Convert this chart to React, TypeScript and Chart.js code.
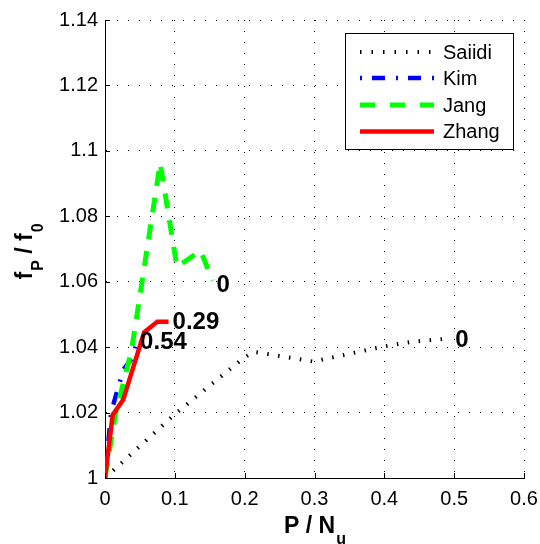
import React, { useEffect, useRef } from 'react';
import { Chart, registerables } from 'chart.js';

Chart.register(...registerables);

// ---- data ----
const seriesNames = ['Saiidi', 'Kim', 'Jang', 'Zhang'];

const saiidiX = [0, 0.1, 0.198, 0.213, 0.298, 0.399, 0.442, 0.496];
const saiidiY = [1.0, 1.0195, 1.0366, 1.0386, 1.0356, 1.0402, 1.0417, 1.0427];

const kimX = [0, 0.009, 0.012, 0.026, 0.04, 0.046];
const kimY = [1.0, 1.0205, 1.0225, 1.033, 1.037, 1.0418];

const jangX = [0, 0.015, 0.038, 0.079, 0.103, 0.137, 0.154];
const jangY = [1.0, 1.0195, 1.039, 1.0963, 1.0645, 1.0695, 1.0603];

const zhangX = [0, 0.011, 0.026, 0.056, 0.075, 0.091];
const zhangY = [1.0, 1.0193, 1.0239, 1.0445, 1.0478, 1.0478];

const endLabels = ['0', '0.54', '0', '0.29'];

const xTicks = [0, 0.1, 0.2, 0.3, 0.4, 0.5, 0.6];
const yTicks = [1.0, 1.02, 1.04, 1.06, 1.08, 1.1, 1.12, 1.14];

// ---- styles ----
const FONT = '"Liberation Sans", Arial, Helvetica, sans-serif';
const colors = ['#000000', '#0000ff', '#00ff00', '#ff0000'];
const dashes: number[][] = [[1.5, 9.5], [13, 11, 2, 11], [15, 12], []];
const legendDashes: number[][] = [[1.5, 10], [2, 10, 13, 11], [15, 15], []];
const widths = [4, 4.5, 5, 4.5];
const labelOffsets = [[4, 2], [3, 1.5], [4, 5], [4, 1]];

const fmt = (v: number) => String(Number(v.toFixed(2)));

const seriesX = [saiidiX, kimX, jangX, zhangX];
const seriesY = [saiidiY, kimY, jangY, zhangY];

const overlay = {
  id: 'overlay',
  afterDatasetsDraw(chart: any) {
    const { ctx, chartArea } = chart;
    const xs = chart.scales.x;
    const ys = chart.scales.y;
    ctx.save();

    // inward tick marks
    ctx.strokeStyle = '#000';
    ctx.lineWidth = 1;
    ctx.setLineDash([]);
    ctx.beginPath();
    xTicks.forEach((v) => {
      const px = Math.round(xs.getPixelForValue(v)) + 0.5;
      ctx.moveTo(px, chartArea.bottom);
      ctx.lineTo(px, chartArea.bottom - 5);
    });
    yTicks.forEach((v) => {
      const py = Math.round(ys.getPixelForValue(v)) + 0.5;
      ctx.moveTo(chartArea.left, py);
      ctx.lineTo(chartArea.left + 5, py);
    });
    ctx.stroke();

    // end-of-series labels
    ctx.fillStyle = '#000';
    ctx.font = 'bold 24px ' + FONT;
    ctx.textAlign = 'left';
    ctx.textBaseline = 'middle';
    seriesX.forEach((sx, i) => {
      const lx = xs.getPixelForValue(sx[sx.length - 1]) + labelOffsets[i][0];
      const ly = ys.getPixelForValue(seriesY[i][sx.length - 1]) + labelOffsets[i][1];
      ctx.fillText(endLabels[i], lx, ly);
    });

    // legend box
    const bx = 345, by = 33, bw = 168, bh = 116;
    ctx.fillStyle = '#fff';
    ctx.fillRect(bx, by, bw, bh);
    ctx.strokeStyle = '#000';
    ctx.lineWidth = 1;
    ctx.strokeRect(bx + 0.5, by + 0.5, bw, bh);
    const rowY = [52, 78, 105, 131.5];
    seriesNames.forEach((name, i) => {
      ctx.save();
      ctx.strokeStyle = colors[i];
      ctx.lineWidth = widths[i];
      ctx.lineCap = 'butt';
      ctx.setLineDash(legendDashes[i]);
      ctx.beginPath();
      ctx.moveTo(360, rowY[i]);
      ctx.lineTo(434, rowY[i]);
      ctx.stroke();
      ctx.restore();
      ctx.fillStyle = '#000';
      ctx.font = '20px ' + FONT;
      ctx.textBaseline = 'middle';
      ctx.textAlign = 'left';
      ctx.fillText(name, 443, rowY[i] + 1);
    });

    // x axis title: P / N_u
    const mainF = 'bold 23px ' + FONT;
    const subF = 'bold 16px ' + FONT;
    ctx.textBaseline = 'alphabetic';
    ctx.textAlign = 'left';
    ctx.font = mainF;
    const wMain = ctx.measureText('P / N').width;
    ctx.font = subF;
    const wSub = ctx.measureText('u').width;
    const cx = (chartArea.left + chartArea.right) / 2;
    const sx0 = cx - (wMain + wSub) / 2;
    ctx.font = mainF;
    ctx.fillText('P / N', sx0, 533);
    ctx.font = subF;
    ctx.fillText('u', sx0 + wMain + 1, 544);

    // y axis title: f_P / f_0 (rotated)
    const parts: [string, boolean][] = [['f', false], ['P', true], [' / ', false], ['f', false], ['0', true]];
    let total = 0;
    const ws = parts.map(([t, sub]) => {
      ctx.font = sub ? subF : mainF;
      const w = ctx.measureText(t).width + (sub ? 1 : 0);
      total += w;
      return w;
    });
    ctx.translate(32, 251.5);
    ctx.rotate(-Math.PI / 2);
    let px0 = -total / 2;
    parts.forEach(([t, sub], i) => {
      ctx.font = sub ? subF : mainF;
      ctx.fillText(t, px0 + (sub ? 1 : 0), sub ? 11 : 0);
      px0 += ws[i];
    });

    ctx.restore();
  },
};

export default function App() {
  const ref = useRef<HTMLCanvasElement | null>(null);

  useEffect(() => {
    if (!ref.current) return;
    const datasets = seriesNames.map((name, i) => ({
      label: name,
      data: seriesX[i].map((x, j) => ({ x, y: seriesY[i][j] })),
      borderColor: colors[i],
      backgroundColor: colors[i],
      borderWidth: widths[i],
      borderDash: dashes[i],
      borderCapStyle: 'butt' as const,
      borderJoinStyle: 'miter' as const,
      pointRadius: 0,
      tension: 0,
      fill: false,
      showLine: true,
      order: 4 - i,
    }));

    const tickFont = { family: FONT, size: 20 };
    const chart = new Chart(ref.current, {
      type: 'line',
      data: { datasets },
      plugins: [overlay],
      options: {
        animation: false,
        responsive: false,
        maintainAspectRatio: false,
        layout: { padding: { left: 0, right: 16, top: 20, bottom: 0 } },
        plugins: { legend: { display: false }, tooltip: { enabled: false } },
        scales: {
          x: {
            type: 'linear',
            min: 0,
            max: 0.6,
            afterBuildTicks: (s: any) => {
              s.ticks = xTicks.map((v) => ({ value: v }));
            },
            afterFit: (s: any) => {
              s.height = 66;
              s.paddingLeft = 0;
              s.paddingRight = 0;
            },
            ticks: {
              font: tickFont,
              color: '#000',
              padding: 9,
              maxRotation: 0,
              autoSkip: false,
              callback: (v: any) => fmt(Number(v)),
            },
            grid: { color: '#000', lineWidth: 1, drawTicks: false },
            border: { display: true, color: '#000', width: 1, dash: [1, 10] },
          },
          y: {
            type: 'linear',
            min: 1.0,
            max: 1.14,
            afterBuildTicks: (s: any) => {
              s.ticks = yTicks.map((v) => ({ value: v }));
            },
            afterFit: (s: any) => {
              s.width = 105;
              s.paddingTop = 0;
              s.paddingBottom = 0;
            },
            ticks: {
              font: tickFont,
              color: '#000',
              padding: 7,
              autoSkip: false,
              callback: (v: any) => fmt(Number(v)),
            },
            grid: { color: '#000', lineWidth: 1, drawTicks: false },
            border: { display: true, color: '#000', width: 1, dash: [1, 10] },
          },
        },
      },
    });
    return () => chart.destroy();
  }, []);

  return (
    <div style={{ position: 'fixed', left: 0, top: 0, width: 540, height: 544, background: '#fff' }}>
      <canvas ref={ref} width={540} height={544} />
    </div>
  );
}
